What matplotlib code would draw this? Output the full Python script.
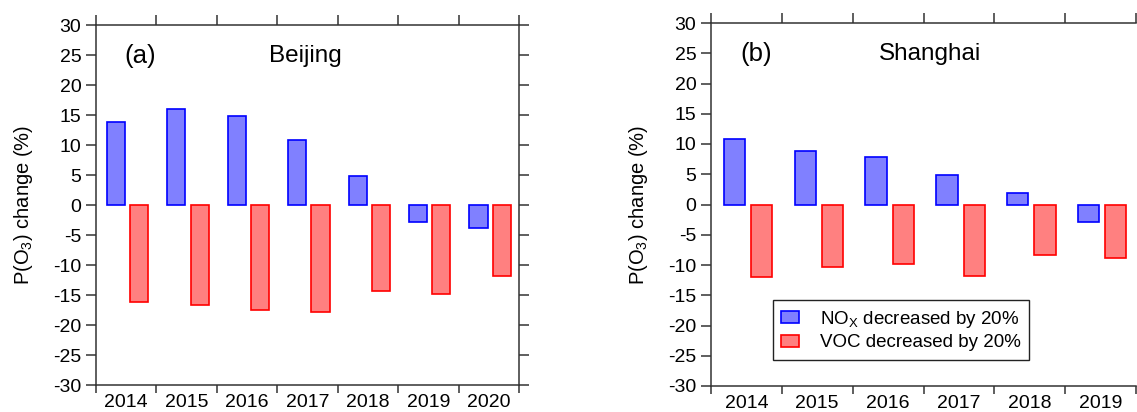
import matplotlib
matplotlib.use("Agg")
import matplotlib.pyplot as plt
import numpy as np
from matplotlib.patches import Patch

plt.rcParams['font.family'] = ['Liberation Sans', 'DejaVu Sans']
plt.rcParams['mathtext.fontset'] = 'custom'
plt.rcParams['mathtext.rm'] = 'Liberation Sans'
plt.rcParams['mathtext.it'] = 'Liberation Sans:italic'
plt.rcParams['axes.unicode_minus'] = False

# data
years_bj = ['2014', '2015', '2016', '2017', '2018', '2019', '2020']
nox_bj = [13.9, 16.0, 14.9, 10.9, 4.9, -2.9, -3.9]
voc_bj = [-16.2, -16.6, -17.5, -17.9, -14.4, -14.8, -11.9]

years_sh = ['2014', '2015', '2016', '2017', '2018', '2019']
nox_sh = [10.9, 8.9, 7.9, 4.9, 1.9, -2.9]
voc_sh = [-12.0, -10.4, -9.9, -11.9, -8.4, -8.9]

blue_face, blue_edge = '#8080FF', '#0000FF'
red_face, red_edge = '#FF8080', '#FF0000'
spine_col = '#333333'


def panel(ax, years, nox, voc, tag, city, city_x, show_right=True):
    n = len(years)
    idx = np.arange(n)
    ax.bar(idx + 0.33, nox, width=0.30, color=blue_face, edgecolor=blue_edge, linewidth=1.2)
    ax.bar(idx + 0.715, voc, width=0.30, color=red_face, edgecolor=red_edge, linewidth=1.2)
    ax.set_xlim(0, n)
    ax.set_ylim(-30, 30)
    ax.set_yticks(np.arange(-30, 31, 5))
    ax.tick_params(axis='y', which='both', direction='out', length=7.5, width=1.1,
                   color=spine_col, labelsize=14, right=show_right, pad=3)
    # category boundaries as major ticks, year labels on minor ticks
    ax.set_xticks(np.arange(n + 1))
    ax.set_xticklabels([])
    ax.set_xticks(idx + 0.5, minor=True)
    ax.set_xticklabels(years, minor=True)
    ax.tick_params(axis='x', which='major', direction='out', length=5.5, width=1.1, color=spine_col)
    ax.tick_params(axis='x', which='minor', length=0, labelsize=14, pad=6.5)
    top = ax.secondary_xaxis('top')
    top.set_xticks(np.arange(n + 1))
    top.set_xticklabels([])
    top.tick_params(direction='out', length=7.5, width=1.1, color=spine_col)
    top.spines['top'].set_visible(False)
    for s in ax.spines.values():
        s.set_color(spine_col)
        s.set_linewidth(1.1)
    ax.spines['right'].set_visible(show_right)
    ax.set_ylabel(r'P(O$_3$) change (%)', fontsize=14.5, labelpad=13)
    ax.text(0.068, 0.915, tag, transform=ax.transAxes, fontsize=18.5, va='center', ha='left')
    ax.text(city_x, 0.915, city, transform=ax.transAxes,
            fontsize=17.5, va='center', ha='left')


fig = plt.figure(figsize=(11.37, 4.12), dpi=100)
ax1 = fig.add_axes([96 / 1137, 27 / 412, 423 / 1137, 360 / 412])
ax2 = fig.add_axes([711 / 1137, 26 / 412, 425 / 1137, 363 / 412])

panel(ax1, years_bj, nox_bj, voc_bj, '(a)', 'Beijing', 0.408)
panel(ax2, years_sh, nox_sh, voc_sh, '(b)', 'Shanghai', 0.396, show_right=False)

handles = [Patch(facecolor=blue_face, edgecolor=blue_edge, linewidth=1.2),
           Patch(facecolor=red_face, edgecolor=red_edge, linewidth=1.2)]
labels = [r'NO$_\mathrm{X}$ decreased by 20%', 'VOC decreased by 20%']
leg = ax2.legend(handles, labels, loc='lower left', bbox_to_anchor=(0.146, 0.072),
                 fontsize=13.5, frameon=True, fancybox=False, framealpha=1,
                 handlelength=0.95, handleheight=0.6, handletextpad=1.1,
                 borderpad=0.45, labelspacing=0.25, borderaxespad=0)
leg.get_frame().set_edgecolor('#222222')
leg.get_frame().set_linewidth(1.0)

fig.savefig('out.png', dpi=100)
